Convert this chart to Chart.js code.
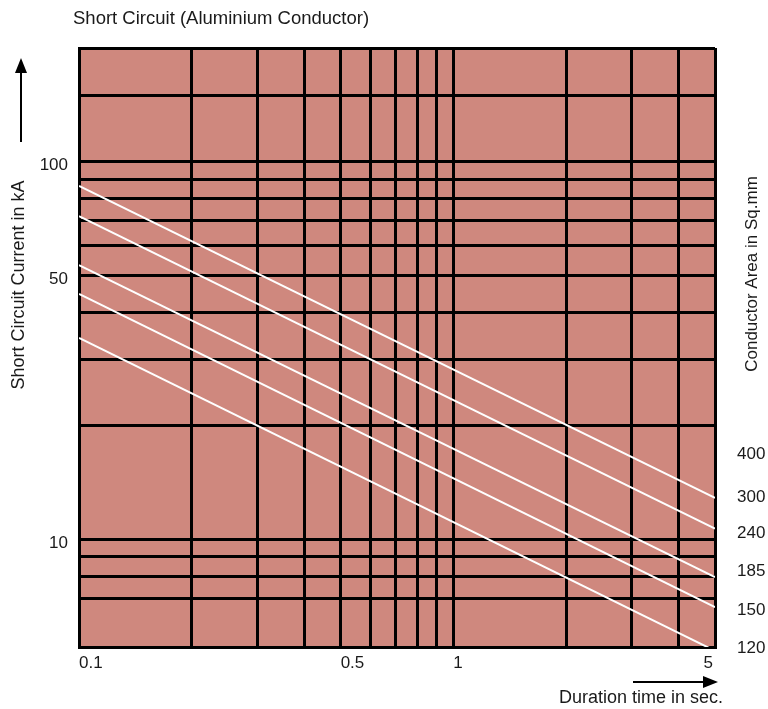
<!DOCTYPE html>
<html>
<head>
<meta charset="utf-8">
<script src="https://cdn.jsdelivr.net/npm/chart.js@4/dist/chart.umd.min.js"></script>
<style>
  body { margin: 0; background: #fff; }
</style>
</head>
<body>
<canvas id="scChart" width="768" height="709"></canvas>
<script>
// duration (s) at the two ends of every curve
const timeSec = [0.1, 5];

// short circuit current (kA) per conductor area, read at t = 0.1 and t = 5
const current300 = [86.3, 12.9];
const current240 = [71.8, 10.7];
const current185 = [53.3, 7.96];
const current150 = [44.7, 6.63];
const current120 = [34.2, 5.08];

const seriesAreas = ['300', '240', '185', '150', '120'];
const areaLabels = ['400', '300', '240', '185', '150', '120'];

// grid / tick values
const xTickValues = [0.1, 0.2, 0.3, 0.4, 0.5, 0.6, 0.7, 0.8, 0.9, 1, 2, 3, 4, 5];
const xLabelled = [0.1, 0.5, 1];
const xEndLabel = 5;
const yTickValues = [200, 150, 100, 90, 80, 70, 60, 50, 40, 30, 20, 10, 9, 8, 7];
const yLabelled = [10, 50, 100];

const FONT = "'Liberation Sans', Arial, Helvetica, sans-serif";
const TEXT = '#1a1a1a';

const toPoints = (vals) => vals.map((v, i) => ({ x: timeSec[i], y: v }));
const seriesValues = [current300, current240, current185, current150, current120];

const datasets = seriesValues.map((vals, i) => ({
  label: seriesAreas[i] + ' sq.mm',
  data: toPoints(vals),
  borderColor: '#ffffff',
  borderWidth: 2,
  pointRadius: 0,
  tension: 0
}));

// fill plot area
const plotBackground = {
  id: 'plotBackground',
  beforeDraw(chart) {
    const { ctx, chartArea: a } = chart;
    ctx.save();
    ctx.fillStyle = '#cf887e';
    ctx.fillRect(a.left, a.top, a.right - a.left, a.bottom - a.top);
    ctx.restore();
  }
};

// titles, arrows and area labels
const annotations = {
  id: 'annotations',
  afterDraw(chart) {
    const ctx = chart.ctx;
    const xs = chart.scales.x;
    ctx.save();
    ctx.fillStyle = TEXT;
    ctx.strokeStyle = '#000';
    ctx.font = '18.5px ' + FONT;
    ctx.textBaseline = 'middle';

    // main title
    ctx.textAlign = 'left';
    ctx.fillText('Short Circuit (Aluminium Conductor)', 73, 19);

    ctx.font = '18px ' + FONT;
    // y axis title
    ctx.save();
    ctx.translate(19, 285);
    ctx.rotate(-Math.PI / 2);
    ctx.textAlign = 'center';
    ctx.fillText('Short Circuit Current in kA', 0, 0);
    ctx.restore();

    // right title
    ctx.save();
    ctx.font = '17px ' + FONT;
    ctx.translate(752, 274);
    ctx.rotate(-Math.PI / 2);
    ctx.textAlign = 'center';
    ctx.fillText('Conductor Area in Sq.mm', 0, 0);
    ctx.restore();

    // x axis title
    ctx.textAlign = 'right';
    ctx.fillText('Duration time in sec.', 723, 698);

    // last x tick label sits inside the right edge
    ctx.font = '17px ' + FONT;
    ctx.fillText(String(xEndLabel), xs.getPixelForValue(xEndLabel) - 2, 663);

    // up arrow
    ctx.lineWidth = 2;
    ctx.beginPath();
    ctx.moveTo(21, 142);
    ctx.lineTo(21, 70);
    ctx.stroke();
    ctx.fillStyle = '#000';
    ctx.beginPath();
    ctx.moveTo(21, 58);
    ctx.lineTo(15, 73);
    ctx.lineTo(27, 73);
    ctx.closePath();
    ctx.fill();

    // right arrow
    ctx.beginPath();
    ctx.moveTo(633, 682);
    ctx.lineTo(706, 682);
    ctx.stroke();
    ctx.beginPath();
    ctx.moveTo(718, 682);
    ctx.lineTo(703, 676);
    ctx.lineTo(703, 688);
    ctx.closePath();
    ctx.fill();

    // conductor area labels
    const labelY = [454, 497, 533, 571, 610, 648];
    ctx.fillStyle = TEXT;
    ctx.textAlign = 'left';
    areaLabels.forEach((t, i) => ctx.fillText(t, 737, labelY[i]));
    ctx.restore();
  }
};

new Chart(document.getElementById('scChart'), {
  type: 'line',
  data: { datasets },
  options: {
    responsive: false,
    animation: false,
    layout: { padding: { left: 0, right: 53, top: 48, bottom: 0 } },
    plugins: {
      legend: { display: false },
      tooltip: { enabled: false }
    },
    scales: {
      x: {
        type: 'logarithmic',
        min: 0.1,
        max: 5,
        afterBuildTicks: (s) => { s.ticks = xTickValues.map(v => ({ value: v })); },
        afterFit: (s) => { s.height = 62; },
        grid: { color: '#000', lineWidth: 3, drawTicks: false },
        border: { color: '#000', width: 3 },
        ticks: {
          autoSkip: false,
          maxRotation: 0,
          align: 'start',
          padding: 6,
          color: TEXT,
          font: { family: FONT, size: 17 },
          callback: (v) => xLabelled.includes(v) ? String(v) : ''
        }
      },
      y: {
        type: 'logarithmic',
        min: 5.2,
        max: 200,
        afterBuildTicks: (s) => { s.ticks = yTickValues.map(v => ({ value: v })); },
        afterFit: (s) => { s.width = 79; },
        grid: { color: '#000', lineWidth: 3, drawTicks: false },
        border: { color: '#000', width: 3 },
        ticks: {
          autoSkip: false,
          padding: 11,
          labelOffset: 4,
          color: TEXT,
          font: { family: FONT, size: 17 },
          callback: (v) => yLabelled.includes(v) ? String(v) : ''
        }
      }
    }
  },
  plugins: [plotBackground, annotations]
});
</script>
</body>
</html>
